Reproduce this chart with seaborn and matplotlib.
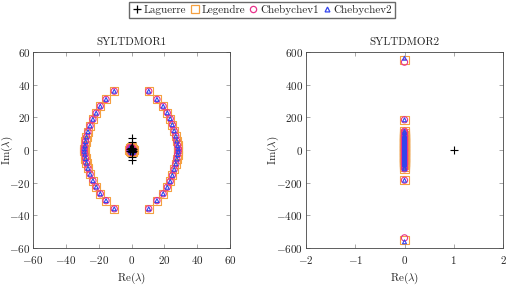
import numpy as np
import pandas as pd
import matplotlib
matplotlib.use("Agg")
import matplotlib.pyplot as plt
from matplotlib.lines import Line2D
import seaborn as sns

# --- datos: autovalores ---

# SYLTDMOR1: arco derecho (Legendre / Chebychev1 / Chebychev2 coinciden)
arc_r_re = [10.5, 15.5, 19.3, 21.8, 23.6, 24.9, 26.0, 27.0, 27.6, 28.1, 28.5,
            28.5, 28.1, 27.6, 27.0, 26.0, 24.9, 23.6, 21.8, 19.3, 15.5, 10.5]
arc_r_im = [36.0, 31.0, 26.8, 22.8, 19.2, 15.5, 11.8, 8.5, 5.5, 2.8, 0.8,
            -0.8, -2.8, -5.5, -8.5, -11.8, -15.5, -19.2, -22.8, -26.8, -31.0, -36.0]
# arco izquierdo
arc_l_re = [-10.5, -15.5, -19.0, -21.5, -23.5, -25.2, -26.5, -27.4, -28.0, -28.4, -28.7,
            -28.7, -28.4, -28.0, -27.4, -26.5, -25.2, -23.5, -21.5, -19.0, -15.5, -10.5]
arc_l_im = [36.0, 31.0, 26.8, 22.6, 18.8, 14.8, 11.2, 8.0, 5.2, 2.6, 0.8,
            -0.8, -2.6, -5.2, -8.0, -11.2, -14.8, -18.8, -22.6, -26.8, -31.0, -36.0]
# grupo central (cerca del origen)
center_re = [-1.2, -0.8, -0.4, 0.0, 0.4, 0.8, 1.2, -0.6, 0.6, 0.0, -1.0, 1.0, 0.0,
             -0.3, 0.3, -0.9, 0.9, 0.2, -0.2]
center_im = [0.0, 1.0, -1.2, 0.5, 1.2, -0.8, 0.2, -0.3, 0.4, -1.5, 1.4, -1.4, 1.6,
             -0.6, 0.8, 0.5, -0.5, -1.0, 1.1]
# Laguerre en SYLTDMOR1
lag1_re = [0.0, 0.0, 0.0, 0.0, 0.0, 0.0, 0.0, -0.8, 0.8, -0.4, 0.4, -0.8, 0.8, 0.0, 0.0]
lag1_im = [7.2, 5.2, 1.0, 0.0, -1.0, -4.5, -6.2, 0.6, -0.6, 1.2, -1.2, -0.7, 0.7, 0.4, -0.4]

# SYLTDMOR2: columna en Re = 0
col_im = [-185.0, -115.0, -105.0, -90.0, -86.0, -81.0, -76.0, -71.0, -66.0, -61.0,
          -56.0, -51.0, -46.0, -41.0, -36.0, -31.0, -26.0, -21.0, -16.0, -11.0, -6.0,
          -2.0, 2.0, 6.0, 11.0, 16.0, 21.0, 26.0, 31.0, 36.0, 41.0, 46.0, 51.0, 56.0,
          61.0, 66.0, 71.0, 76.0, 81.0, 86.0, 90.0, 105.0, 115.0, 185.0]
leg2_im_extra = [550.0, -550.0]
cheb1_im_extra = [538.0, -538.0]
cheb2_im_extra = [562.0, -562.0]
# Laguerre en SYLTDMOR2
lag2_re = [1.0]
lag2_im = [0.0]

methods = ["Laguerre", "Legendre", "Chebychev1", "Chebychev2"]
colors = {"Laguerre": "black", "Legendre": "#F5A040",
          "Chebychev1": "#E8338C", "Chebychev2": "#3344EE"}
markers = {"Laguerre": "+", "Legendre": "s", "Chebychev1": "o", "Chebychev2": "^"}
sizes = {"Laguerre": 30, "Legendre": 34, "Chebychev1": 20, "Chebychev2": 8}

# --- estilo ---
sns.set_theme(style="ticks")
plt.rcParams["font.family"] = ["cmr10", "DejaVu Serif"]
plt.rcParams["mathtext.fontset"] = "cm"
plt.rcParams["axes.formatter.use_mathtext"] = True
plt.rcParams["font.size"] = 8

fig = plt.figure(figsize=(5.12, 2.89), dpi=100)
ax1 = fig.add_axes([33 / 512, 1 - 248 / 289, 197 / 512, 196 / 289])
ax2 = fig.add_axes([306 / 512, 1 - 248 / 289, 197 / 512, 196 / 289])


def draw(ax, re, im, m):
    if markers[m] == "+":
        sns.scatterplot(x=re, y=im, ax=ax, marker="+", s=sizes[m], color=colors[m],
                        linewidth=0.8, zorder=5)
    else:
        sns.scatterplot(x=re, y=im, ax=ax, marker=markers[m], s=sizes[m],
                        facecolors="none", edgecolor=colors[m], linewidth=0.8, zorder=3)


# panel 1
pts_re = arc_r_re + arc_l_re + center_re
pts_im = arc_r_im + arc_l_im + center_im
for m in ["Legendre", "Chebychev1", "Chebychev2"]:
    draw(ax1, pts_re, pts_im, m)
draw(ax1, lag1_re, lag1_im, "Laguerre")

# panel 2
zeros = [0.0] * len(col_im)
draw(ax2, zeros + [0.0, 0.0], col_im + leg2_im_extra, "Legendre")
draw(ax2, zeros + [0.0, 0.0], col_im + cheb1_im_extra, "Chebychev1")
draw(ax2, zeros + [0.0, 0.0], col_im + cheb2_im_extra, "Chebychev2")
draw(ax2, lag2_re, lag2_im, "Laguerre")

for ax, title, xl, yl, xt, yt, ylx in [
    (ax1, "SYLTDMOR1", (-60, 60), (-60, 60), np.arange(-60, 61, 20), np.arange(-60, 61, 20), -0.09),
    (ax2, "SYLTDMOR2", (-2, 2), (-600, 600), np.arange(-2, 3, 1), np.arange(-600, 601, 200), -0.125),
]:
    ax.set_xlim(*xl)
    ax.set_ylim(*yl)
    ax.set_xticks(xt)
    ax.set_yticks(yt)
    ax.set_title(title, fontsize=8, pad=5)
    ax.set_xlabel(r"Re($\lambda$)", fontsize=8)
    ax.set_ylabel(r"Im($\lambda$)", fontsize=8)
    ax.xaxis.set_label_coords(0.5, -0.115)
    ax.yaxis.set_label_coords(ylx, 0.5)
    ax.tick_params(direction="in", top=True, right=True, length=3, width=0.6,
                   color="#999999", labelsize=8, pad=2)
    ax.tick_params(axis="x", pad=4)
    for sp in ax.spines.values():
        sp.set_linewidth(0.6)
        sp.set_color("#444444")

handles = [Line2D([], [], linestyle="none", marker=markers[m],
                  markersize={"Laguerre": 5.5, "Legendre": 6, "Chebychev1": 4.5, "Chebychev2": 3.5}[m],
                  markerfacecolor="none", markeredgecolor=colors[m],
                  color=colors[m], markeredgewidth=0.9) for m in methods]
fig.legend(handles, methods, loc="upper center", bbox_to_anchor=(0.512, 1.0), ncol=4,
           frameon=True, fancybox=False, edgecolor="#444444", fontsize=8,
           handletextpad=0.15, columnspacing=0.3, handlelength=0.9,
           borderpad=0.3, borderaxespad=0.15)

fig.savefig("out.png", dpi=100)
